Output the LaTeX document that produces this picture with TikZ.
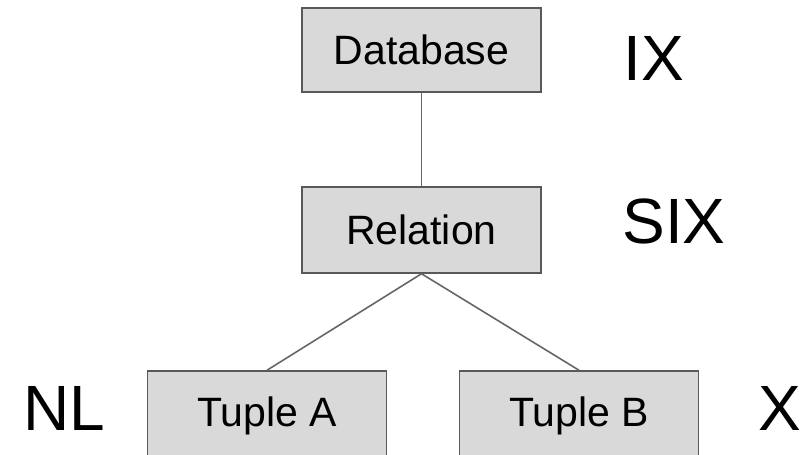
\documentclass[tikz,border=0pt]{standalone}
\usepackage{fontspec}
\setmainfont{Liberation Sans}
\begin{document}
\begin{tikzpicture}[x=1pt,y=1pt,
	lockbox/.style={draw=black!65,fill=black!15,line width=1.5pt,minimum width=239pt,minimum height=84pt,inner sep=0pt,text height=30pt,text depth=0pt,font=\fontsize{41}{49}\selectfont},
	lockmode/.style={inner sep=0pt,text height=46pt,text depth=0pt,font=\fontsize{64}{76}\selectfont},
	link/.style={draw=black!60,line width=1.6pt}]
	\clip (0,0) rectangle (803,455);

	%hierarchy boxes
	\node[lockbox] (db) at (421.5,405) {Database};
	\node[lockbox,minimum height=86pt] (rel) at (421.5,225) {Relation};
	\node[lockbox,minimum height=88pt,text depth=6pt] (ta) at (267,40) {Tuple A}; %runs off the bottom
	\node[lockbox,minimum height=88pt,text depth=6pt] (tb) at (579,40) {Tuple B};

	%links
	\draw[link] (db.south) -- (rel.north);
	\draw[link] (rel.south) -- (ta.north);
	\draw[link] (rel.south) -- (tb.north);

	%lock modes
	\node[lockmode] (dbmode) at (653.5,397) {IX};
	\node[lockmode] (relmode) at (674,234) {SIX};
	\node[lockmode] (tamode) at (64,47) {NL};
	\node[lockmode] (tbmode) at (780,47.5) {X};
\end{tikzpicture}
\end{document}
